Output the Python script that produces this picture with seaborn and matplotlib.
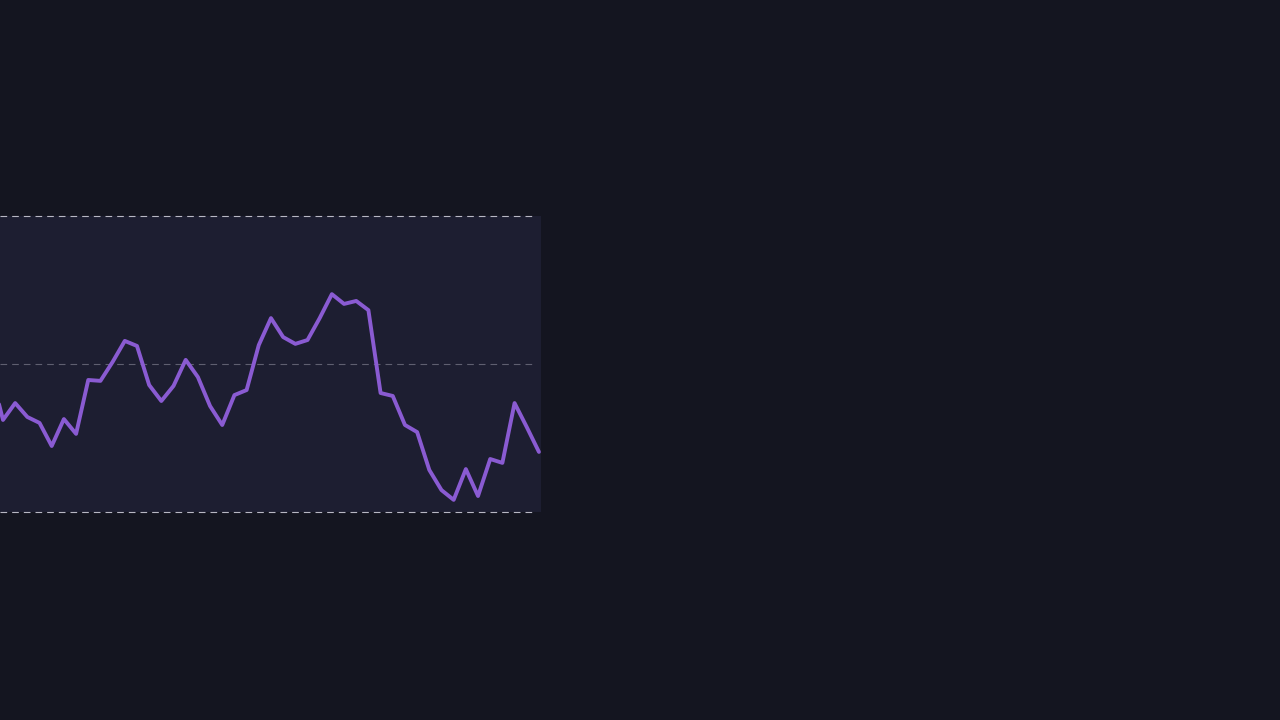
import numpy as np
import pandas as pd
import matplotlib
matplotlib.use('Agg')
import matplotlib.pyplot as plt
import seaborn as sns

# valores (escala 0-100)
passos = list(range(46))
valores = [47.3, 31.1, 36.8, 32.1, 30.1, 22.3, 31.4, 26.4, 44.6, 44.3,
           50.7, 57.8, 56.1, 42.9, 37.5, 42.6, 51.4, 45.6, 35.8, 29.4,
           39.5, 41.2, 56.4, 65.5, 59.1, 56.8, 58.1, 65.5, 73.6, 70.3,
           71.3, 68.2, 40.2, 39.2, 29.4, 27.0, 14.2, 7.4, 4.1, 14.5,
           5.4, 17.9, 16.6, 36.8, 28.7, 20.3]
linhas_grade = [0, 50, 100]

df = pd.DataFrame({'passo': passos, 'valor': valores})

fundo = '#141520'
painel = '#1d1e31'
roxo = '#8a5bd2'

sns.set_theme(style='dark')
fig = plt.figure(figsize=(12.8, 7.2), dpi=100, facecolor=fundo)
ax = fig.add_axes([0, 208 / 720, 541 / 1280, 296 / 720])
ax.set_facecolor(painel)

# linhas tracejadas da grade (terminam um pouco antes da borda)
for y in linhas_grade:
    cor = '#5f5f70' if y == 50 else '#b8b8c4'
    ax.axhline(y, xmax=0.99, color=cor, lw=0.8, dashes=(6, 4.5),
               zorder=1, clip_on=False)

sns.lineplot(data=df, x='passo', y='valor', ax=ax, color=roxo, lw=2.8,
             zorder=3, solid_joinstyle='round', solid_capstyle='round')

ax.set_xlim(0.754, 45.17)
ax.set_ylim(0, 100)
ax.set_xlabel('')
ax.set_ylabel('')
ax.set_xticks([])
ax.set_yticks([])
for lado in ax.spines.values():
    lado.set_visible(False)

fig.savefig('out.png', dpi=100, facecolor=fundo)
